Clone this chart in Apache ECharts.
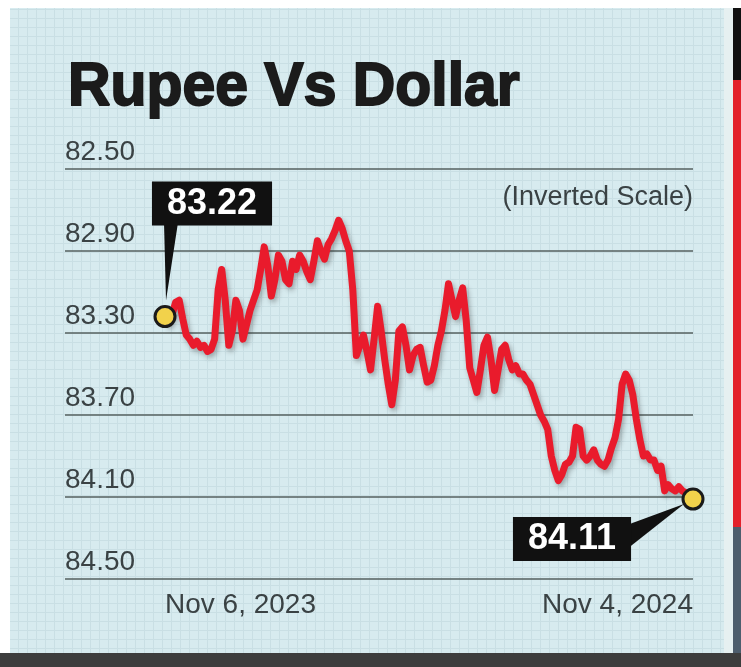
<!DOCTYPE html>
<html><head><meta charset="utf-8">
<script src="https://cdn.jsdelivr.net/npm/echarts@6/dist/echarts.min.js"></script>
<style>html,body{margin:0;padding:0;background:#fff}#c{width:741px;height:667px}</style>
</head><body><div id="c"></div>
<script>
const chartTitle = 'Rupee Vs Dollar';
const scaleNote = '(Inverted Scale)';
const dateLabels = ['Nov 6, 2023', 'Nov 4, 2024'];
const yMin = 82.5, yMax = 84.5, yStep = 0.4;
const rates = [
83.22,83.25,83.21,83.15,83.14,83.23,83.31,83.33,83.36,83.34,
83.37,83.36,83.39,83.38,83.33,83.09,82.99,83.14,83.36,83.29,
83.14,83.19,83.33,83.26,83.19,83.14,83.09,82.99,82.88,82.97,
83.12,83.04,82.92,82.95,83.04,83.06,82.95,82.99,82.92,82.95,
83.00,83.04,82.95,82.85,82.90,82.94,82.87,82.84,82.80,82.75,
82.79,82.85,82.90,83.09,83.41,83.36,83.31,83.39,83.48,83.33,
83.17,83.29,83.43,83.55,83.65,83.53,83.29,83.27,83.36,83.48,
83.41,83.38,83.37,83.46,83.54,83.53,83.46,83.36,83.29,83.19,
83.06,83.14,83.22,83.14,83.08,83.24,83.47,83.53,83.59,83.48,
83.36,83.32,83.43,83.58,83.48,83.38,83.36,83.43,83.48,83.46,
83.50,83.50,83.53,83.55,83.60,83.65,83.70,83.73,83.77,83.90,
83.97,84.02,83.99,83.94,83.93,83.90,83.76,83.77,83.90,83.92,
83.90,83.87,83.92,83.94,83.95,83.92,83.86,83.81,83.72,83.55,
83.50,83.53,83.60,83.72,83.82,83.90,83.89,83.92,83.92,83.97,
83.95,84.07,84.04,84.06,84.07,84.05,84.07,84.08,84.08,84.11];

const N = rates.length;
const gridLeft = 65, gridRight = 48, lead = 100;
const plotW = 741 - gridLeft - gridRight;
const xMin = -(N - 1) * lead / (plotW - lead);

// background texture
const pc = document.createElement('canvas');
pc.width = 9; pc.height = 9;
const g = pc.getContext('2d');
g.fillStyle = '#d7ebef'; g.fillRect(0, 0, 9, 9);
g.fillStyle = '#c9dfe4'; g.fillRect(0, 0, 9, 1); g.fillRect(0, 0, 1, 9);

const chart = echarts.init(document.getElementById('c'), null, {renderer: 'canvas'});
const FONT = '"Liberation Sans", Arial, sans-serif';
const option = {
  animation: false,
  backgroundColor: '#ffffff',
  grid: {left: gridLeft, right: gridRight, top: 169, bottom: 88, containLabel: false},
  xAxis: {
    type: 'value', min: xMin, max: N - 1,
    axisLine: {show: false}, axisTick: {show: false}, splitLine: {show: false},
    axisLabel: {
      customValues: [0, N - 1],
      formatter: v => (v === 0 ? dateLabels[0] : dateLabels[1]),
      alignMinLabel: 'left', alignMaxLabel: 'right',
      color: '#3a4244', fontFamily: FONT, fontSize: 28, margin: 12
    }
  },
  yAxis: {
    type: 'value', inverse: true, min: yMin, max: yMax, interval: yStep,
    axisLine: {show: false}, axisTick: {show: false},
    splitLine: {show: true, lineStyle: {color: '#55605f', width: 1.6}},
    axisLabel: {
      inside: true, margin: 0, formatter: v => v.toFixed(2),
      verticalAlign: 'bottom', lineHeight: 28, padding: [0, 0, 3, 0],
      color: '#3a4244', fontFamily: FONT, fontSize: 28
    }
  },
  series: [
    {
      type: 'line', z: 2, showSymbol: false, silent: true,
      data: rates.map((v, i) => [i, v]),
      lineStyle: {color: '#e91b2c', width: 7, join: 'round', cap: 'round',
        shadowColor: 'rgba(40,40,40,0.35)', shadowBlur: 5, shadowOffsetX: 2, shadowOffsetY: 3}
    },
    {
      type: 'scatter', z: 5, silent: true,
      symbolSize: 20,
      itemStyle: {color: '#f2d24b', borderColor: '#1a1a1a', borderWidth: 3, opacity: 1},
      data: [
        {value: [0, rates[0]], label: {offset: [47, -113]}},
        {value: [N - 1, rates[N - 1]], label: {offset: [-121, 40]}}
      ],
      label: {
        show: true, position: 'inside',
        formatter: p => p.value[1].toFixed(2),
        color: '#ffffff', fontFamily: FONT, fontWeight: 'bold', fontSize: 36,
        backgroundColor: '#111111', padding: [4, 15, 2, 15], lineHeight: 38, opacity: 1
      }
    }
  ]
};
chart.setOption(option);

const p0 = chart.convertToPixel({gridIndex: 0}, [0, rates[0]]);
const p1 = chart.convertToPixel({gridIndex: 0}, [N - 1, rates[N - 1]]);

chart.setOption({
  graphic: [
    {type: 'rect', z: -10, silent: true, shape: {x: 10, y: 8, width: 714, height: 645},
      style: {fill: {image: pc, repeat: 'repeat'}}},
    {type: 'rect', z: -10, silent: true, shape: {x: 724, y: 8, width: 9, height: 645}, style: {fill: '#e6f0f1'}},
    {type: 'rect', z: 20, silent: true, shape: {x: 733, y: 8, width: 8, height: 72}, style: {fill: '#111111'}},
    {type: 'rect', z: 20, silent: true, shape: {x: 733, y: 80, width: 8, height: 447}, style: {fill: '#e3212b'}},
    {type: 'rect', z: 20, silent: true, shape: {x: 733, y: 527, width: 8, height: 126}, style: {fill: '#4d5d6d'}},
    {type: 'rect', z: 20, silent: true, shape: {x: 0, y: 653, width: 741, height: 14}, style: {fill: '#3d3d3d'}},
    {type: 'text', z: 10, silent: true, x: 68, y: 88, scaleX: 0.95,
      style: {text: chartTitle, fill: '#1b1b1b', stroke: '#1b1b1b', lineWidth: 2,
        font: 'bold 62px ' + FONT, align: 'left', verticalAlign: 'middle'}},
    {type: 'text', z: 10, silent: true, x: 693, y: 198,
      style: {text: scaleNote, fill: '#3a4244', font: '27px ' + FONT, align: 'right', verticalAlign: 'middle'}},
    {type: 'polygon', z: 4, silent: true,
      shape: {points: [[p0[0] - 1, p0[1] - 94], [p0[0] + 13, p0[1] - 94], [p0[0] + 1, p0[1] - 16]]},
      style: {fill: '#111111'}},
    {type: 'polygon', z: 4, silent: true,
      shape: {points: [[p1[0] - 66, p1[1] + 26], [p1[0] - 66, p1[1] + 50], [p1[0] - 9, p1[1] + 5]]},
      style: {fill: '#111111'}}
  ]
});
</script>
</body></html>
